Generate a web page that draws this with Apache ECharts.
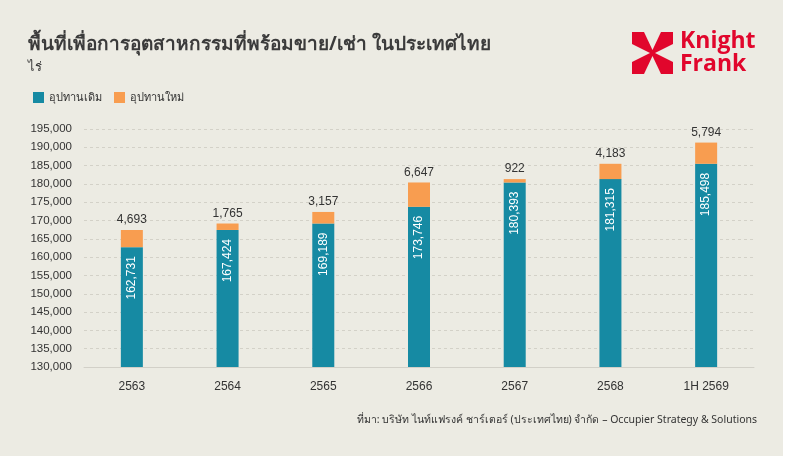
<!DOCTYPE html>
<html>
<head>
<meta charset="utf-8">
<script src="https://cdn.jsdelivr.net/npm/echarts@6/dist/echarts.min.js"></script>
<style>
  html, body { margin: 0; padding: 0; background: #ffffff; }
  #chart { width: 783px; height: 456px; background: #ECEBE3; }
</style>
</head>
<body>
<div id="chart"></div>
<script>
// ข้อมูลพื้นที่ (ไร่)
var years = ['2563', '2564', '2565', '2566', '2567', '2568', '1H 2569'];
var supplyOld = [162731, 167424, 169189, 173746, 180393, 181315, 185498];
var supplyNew = [4693, 1765, 3157, 6647, 922, 4183, 5794];
var seriesNames = ['อุปทานเดิม', 'อุปทานใหม่'];

var thaiFont = '"Noto Sans", "DejaVu Sans", sans-serif';

function fmt(v) {
    return v.toLocaleString('en-US');
}

var myChart = echarts.init(document.getElementById('chart'));

var option = {
    backgroundColor: '#ECEBE3',
    textStyle: { fontFamily: 'Arial, "Liberation Sans", sans-serif' },
    title: {
        text: 'พื้นที่เพื่อการอุตสาหกรรมที่พร้อมขาย/เช่า ในประเทศไทย',
        subtext: 'ไร่',
        left: 23,
        top: 30,
        itemGap: 7,
        textStyle: { fontSize: 19, fontWeight: 'bold', color: '#3b3b3b', fontFamily: thaiFont },
        subtextStyle: { fontSize: 13, color: '#3b3b3b', fontFamily: thaiFont }
    },
    legend: {
        data: seriesNames,
        left: 28,
        top: 87,
        icon: 'rect',
        itemWidth: 11,
        itemHeight: 11,
        itemGap: 12,
        textStyle: { fontSize: 11, color: '#333', fontFamily: thaiFont }
    },
    grid: {
        left: 84,
        right: 29,
        top: 129,
        bottom: 89
    },
    xAxis: {
        type: 'category',
        data: years,
        axisLine: { lineStyle: { color: '#d2d0c8' } },
        axisTick: { show: false },
        axisLabel: { color: '#333', fontSize: 12, margin: 14 }
    },
    yAxis: {
        type: 'value',
        min: 130000,
        max: 195000,
        interval: 5000,
        axisLine: { show: false },
        axisTick: { show: false },
        axisLabel: {
            color: '#333',
            fontSize: 11.5,
            margin: 12,
            formatter: function (v) { return fmt(v); }
        },
        splitLine: { lineStyle: { color: '#d3d1c8', type: [3, 3] } }
    },
    series: [
        {
            name: seriesNames[0],
            type: 'bar',
            stack: 'total',
            barWidth: 22,
            data: supplyOld,
            itemStyle: { color: '#168AA3' },
            label: {
                show: true,
                position: 'insideTop',
                rotate: 90,
                align: 'right',
                verticalAlign: 'middle',
                distance: 9,
                color: '#ffffff',
                fontSize: 12,
                formatter: function (p) { return fmt(p.value); }
            }
        },
        {
            name: seriesNames[1],
            type: 'bar',
            stack: 'total',
            barWidth: 22,
            data: supplyNew,
            itemStyle: { color: '#F89D50' },
            label: {
                show: true,
                position: 'top',
                distance: 4,
                color: '#333',
                fontSize: 12,
                formatter: function (p) { return fmt(p.value); }
            }
        }
    ],
    graphic: [
        // โลโก้ Knight Frank
        { type: 'rect', shape: { x: 632, y: 32, width: 41, height: 42 }, style: { fill: '#E1062C' } },
        { type: 'polygon', shape: { points: [[644, 32], [661, 32], [652.5, 50]] }, style: { fill: '#ECEBE3' } },
        { type: 'polygon', shape: { points: [[644, 74], [661, 74], [652.5, 56]] }, style: { fill: '#ECEBE3' } },
        { type: 'polygon', shape: { points: [[632, 44], [632, 62], [650, 53]] }, style: { fill: '#ECEBE3' } },
        { type: 'polygon', shape: { points: [[673, 44], [673, 62], [655, 53]] }, style: { fill: '#ECEBE3' } },
        {
            type: 'text', left: 680, top: 30,
            style: { text: 'Knight', fill: '#E1062C', font: 'bold 23px "Open Sans", sans-serif' }
        },
        {
            type: 'text', left: 680, top: 53,
            style: { text: 'Frank', fill: '#E1062C', font: 'bold 23px "Open Sans", sans-serif' }
        },
        {
            type: 'text', right: 26, top: 415,
            style: {
                text: 'ที่มา: บริษัท ไนท์แฟรงค์ ชาร์เตอร์ (ประเทศไทย) จำกัด – Occupier Strategy & Solutions',
                fill: '#333', font: '10.5px ' + thaiFont
            }
        }
    ]
};

myChart.setOption(option);
</script>
</body>
</html>
